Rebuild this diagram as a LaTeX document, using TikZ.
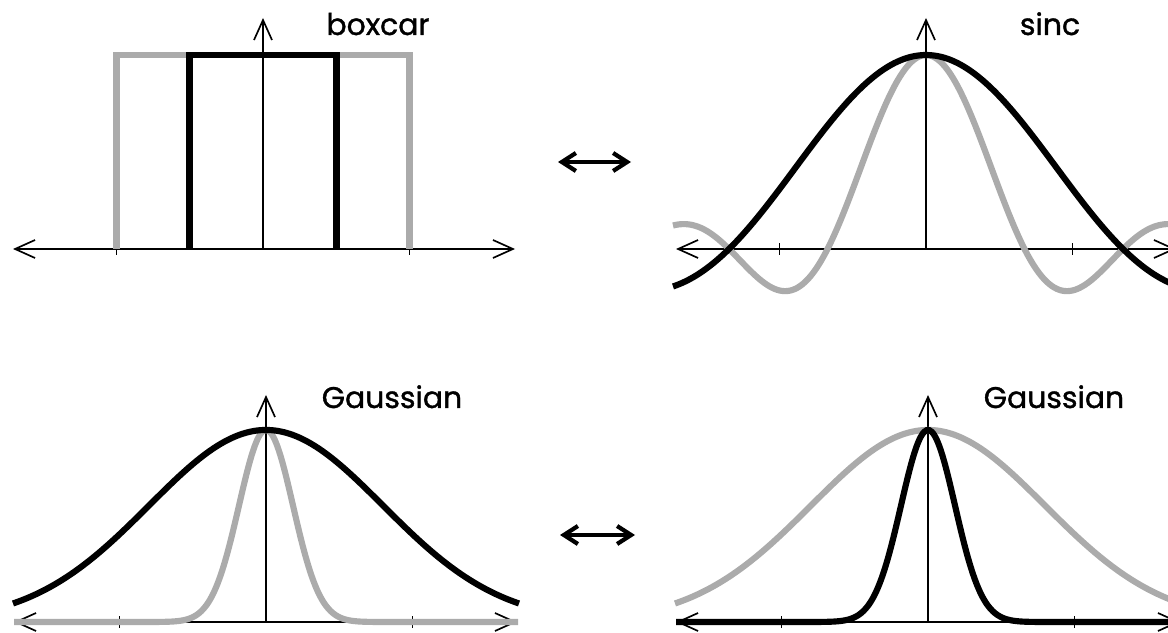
\documentclass[tikz,border=0pt]{standalone}
\usepackage{fontspec}
\setmainfont{Poppins}
\newfontfamily\lbfont{Poppins}[FakeBold=1.2]
\usepackage{tikz}
\usetikzlibrary{arrows.meta, positioning}
\definecolor{lgr}{gray}{0.67}

\begin{document}
\begin{tikzpicture}[
  x=0.02cm, y=0.02cm,
  ax/.style={line width=0.95pt, {Straight Barb[length=0.4cm,width=0.36cm]}-{Straight Barb[length=0.4cm,width=0.36cm]}},
  up/.style={line width=0.95pt, -{Straight Barb[length=0.4cm,width=0.36cm]}},
  tk/.style={line width=0.95pt},
  gc/.style={line width=3.5pt, lgr},
  bc/.style={line width=3.5pt, black},
  lb/.style={anchor=base, font=\fontsize{17}{20}\lbfont},
  dbl/.style={line width=2.4pt, {Straight Barb[length=0.28cm,width=0.36cm]}-{Straight Barb[length=0.28cm,width=0.36cm]}},
  declare function={sincf(\t)=sin(180*\t)/(pi*\t); gss(\t,\s)=exp(max(-9,-0.5*(\t/\s)*(\t/\s)));}]
\useasboundingbox (0,0) rectangle (1168,632);
\clip (0,0) rectangle (1168,632);
\begin{scope}[shift={(263,383)}]
\draw[ax](-250,0)--(252,0);\draw[up](0,0)--(0,231);
\draw[tk](-146.5,-6)--(-146.5,6);\draw[tk](146.5,-6)--(146.5,6);
\draw[gc](-146.5,0)--(-146.5,194)--(146.5,194)--(146.5,0);
\draw[bc](-73.5,0)--(-73.5,194)--(73.5,194)--(73.5,0);
\node[lb] (tbox) at (115,214) {boxcar};
\end{scope}
\begin{scope}[shift={(926,383)}]
\draw[ax](-250,0)--(250,0);\draw[up](0,0)--(0,231);
\draw[tk](-146.5,-6)--(-146.5,6);\draw[tk](146.5,-6)--(146.5,6);
\draw[gc] plot[domain=-253:253, samples=200, smooth] (\x,{194*sincf(\x/98.5)});
\draw[bc] plot[domain=-253:253, samples=200, smooth] (\x,{194*sincf(\x/197)});
\node[lb] (tsinc) at (124,214) {sinc};
\end{scope}
\begin{scope}[shift={(266,10)}]
\draw[ax](-252,0)--(251,0);\draw[up](0,0)--(0,227);
\draw[tk](-146.5,-6)--(-146.5,6);\draw[tk](146.5,-6)--(146.5,6);
\draw[gc] plot[domain=-252:252, samples=200, smooth] (\x,{192*gss(\x,27)});
\draw[bc] plot[domain=-253:253, samples=200, smooth] (\x,{192*gss(\x,117)});
\node[lb] (bgau) at (126,214) {Gaussian};
\end{scope}
\begin{scope}[shift={(928,10)}]
\draw[ax](-252,0)--(252,0);\draw[up](0,0)--(0,227);
\draw[tk](-146.5,-6)--(-146.5,6);\draw[tk](146.5,-6)--(146.5,6);
\draw[gc] plot[domain=-253:253, samples=200, smooth] (\x,{192*gss(\x,117)});
\draw[bc] plot[domain=-252:252, samples=200, smooth] (\x,{192*gss(\x,27)});
\node[lb] (bgau2) at (126,214) {Gaussian};
\end{scope}
\coordinate (ft1) at (558,470);\coordinate (ft2) at (631,470);
\coordinate (fb1) at (560,97);\coordinate (fb2) at (635,97);
\draw[dbl](ft1)--(ft2);
\draw[dbl](fb1)--(fb2);
\end{tikzpicture}
\end{document}
